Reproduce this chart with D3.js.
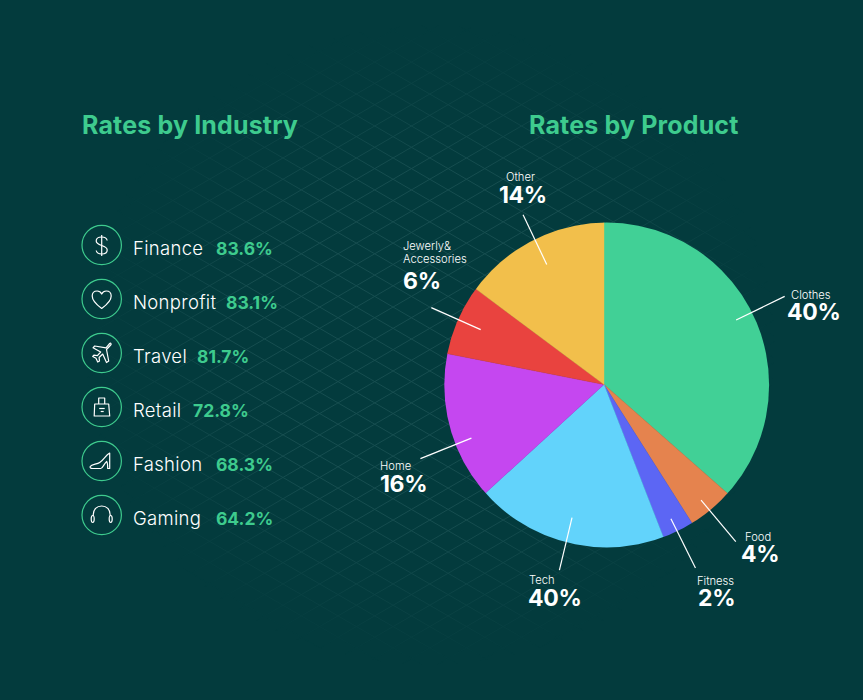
<!DOCTYPE html>
<html>
<head>
<meta charset="utf-8">
<script src="https://cdn.jsdelivr.net/npm/d3@7"></script>
<style>
html, body { margin: 0; padding: 0; background: #033b3d; }
svg { display: block; }
text { font-family: Inter, "Noto Sans", sans-serif; }
</style>
</head>
<body>
<svg id="chart" width="863" height="700"></svg>
<script>
// left list
var industries = ['Finance', 'Nonprofit', 'Travel', 'Retail', 'Fashion', 'Gaming'];
var industryRates = ['83.6%', '83.1%', '81.7%', '72.8%', '68.3%', '64.2%'];

var products = ['Clothes', 'Food', 'Fitness', 'Tech', 'Home', 'Jewerly&|Accessories', 'Other'];
var sliceShares = [36.5, 4.5, 3.1, 19.1, 14.9, 7.1, 14.8];
var printedShares = ['40%', '4%', '2%', '40%', '16%', '6%', '14%'];
var sliceColors = ['#41d096', '#e5834e', '#5c66f4', '#62d3fb', '#c547f0', '#e9433f', '#f2bf4b'];

var WIDTH = 863, HEIGHT = 700, GREEN = '#3ecb8e';
var svg = d3.select('#chart');

// background ------------------------------------------------------------
svg.append('rect').attr('width', WIDTH).attr('height', HEIGHT).attr('fill', '#033b3d');
var defs = svg.append('defs');
var fade = defs.append('radialGradient').attr('id', 'fade')
    .attr('gradientUnits', 'userSpaceOnUse')
    .attr('cx', 0).attr('cy', 0).attr('r', 1)
    .attr('gradientTransform', 'translate(430,345) scale(345,320)');
fade.append('stop').attr('offset', 0).attr('stop-color', '#fff');
fade.append('stop').attr('offset', 0.55).attr('stop-color', '#fff');
fade.append('stop').attr('offset', 1).attr('stop-color', '#000');
defs.append('mask').attr('id', 'gridMask')
    .attr('maskUnits', 'userSpaceOnUse')
    .attr('x', 0).attr('y', 0).attr('width', WIDTH).attr('height', HEIGHT)
    .append('rect').attr('width', WIDTH).attr('height', HEIGHT).attr('fill', 'url(#fade)');

// diamond lattice, 30 degree lines
var grid = svg.append('g').attr('mask', 'url(#gridMask)')
    .attr('stroke', '#174e50').attr('stroke-width', 1).attr('fill', 'none');
var CELL_W = 36.7, CELL_H = 21.3, ORIGIN_X = 338, ORIGIN_Y = 552;
var slope = CELL_H / CELL_W;
grid.selectAll('.down').data(d3.range(-60, 60)).enter().append('line')
    .attr('x1', 0).attr('x2', WIDTH)
    .attr('y1', function(d) { return ORIGIN_Y + d * CELL_H - ORIGIN_X * slope; })
    .attr('y2', function(d) { return ORIGIN_Y + d * CELL_H + (WIDTH - ORIGIN_X) * slope; });
grid.selectAll('.up').data(d3.range(-60, 60)).enter().append('line')
    .attr('x1', 0).attr('x2', WIDTH)
    .attr('y1', function(d) { return ORIGIN_Y + d * CELL_H + ORIGIN_X * slope; })
    .attr('y2', function(d) { return ORIGIN_Y + d * CELL_H - (WIDTH - ORIGIN_X) * slope; });

// titles ------------------------------------------------------------
svg.append('text').attr('x', 82).attr('y', 133.5).attr('fill', GREEN)
    .attr('font-size', 25).attr('font-weight', 700).attr('letter-spacing', 0.15).text('Rates by Industry');
svg.append('text').attr('x', 529).attr('y', 133.5).attr('fill', GREEN)
    .attr('font-size', 25).attr('font-weight', 700).attr('letter-spacing', 0.15).text('Rates by Product');

// industry list ------------------------------------------------------------
var rowY = d3.scaleLinear().domain([0, 5]).range([245, 515]);
var valueX = [216, 226, 197, 193, 216, 216];

// icons are drawn round 0,0 inside the ring
var icons = [
    ['M5.5,-4.5C5,-7 2.5,-8 0,-8C-3,-8 -5.5,-6.5 -5.5,-4C-5.5,-1.5 -3,-0.5 0,0.5C3,1.5 5.5,2.5 5.5,5C5.5,7.5 3,9 0,9C-2.5,9 -5,8 -5.5,5.5', 'M0,-10V11'],
    ['M0,9.5C-4,6.5 -9.5,2.5 -9.5,-3C-9.5,-6.5 -7,-8 -4.5,-8C-2.5,-8 -1,-7 0,-5C1,-7 2.5,-8 4.5,-8C7,-8 9.5,-6.5 9.5,-3C9.5,2.5 4,6.5 0,9.5Z'],
    ['M8,-9.5C9,-10.5 10,-9 9,-8L4.8,-3.5L7,8L4.8,9.5L1,1L-2.6,4.5L-2.2,8L-4,9L-5.7,5.2L-9,3.5L-7.8,2.2L-4.3,2.6L-1,-1L-8.7,-5.2L-7,-7L4.3,-5.2Z'],
    ['M-7,-3H7L8,9H-7.5Z', 'M-3,-3V-9H3V-3', 'M-2.5,1.5H3', 'M-1,4.5H2'],
    ['M8,-8C4,-6 2,-1 -2,1.5C-5,3.5 -10,3 -11.5,5.5C-12,7 -11,7.5 -9,7.5H-1C1,7.5 2,3 5,0.5C6,2 6,5 6,7.5H8Z'],
    ['M-8.5,1V0C-8.5,-5.5 -5,-9 0,-9C5,-9 8.5,-5.5 8.5,0V1',
     'M-9,0.5C-10.5,0.5 -10.5,2 -10.5,4C-10.5,6 -10.5,7.5 -9,7.5C-7.5,7.5 -7.5,6 -7.5,4C-7.5,2 -7.5,0.5 -9,0.5Z',
     'M9,0.5C10.5,0.5 10.5,2 10.5,4C10.5,6 10.5,7.5 9,7.5C7.5,7.5 7.5,6 7.5,4C7.5,2 7.5,0.5 9,0.5Z']
];

var rows = svg.selectAll('.row').data(industries).enter().append('g')
    .attr('class', 'row')
    .attr('transform', function(d, i) { return 'translate(0,' + rowY(i) + ')'; });
rows.append('circle').attr('cx', 101.7).attr('r', 19.7)
    .attr('fill', 'none').attr('stroke', GREEN).attr('stroke-width', 1.2);
rows.append('g').attr('transform', 'translate(101.7,0)')
    .selectAll('path').data(function(d, i) { return icons[i]; }).enter().append('path')
    .attr('d', function(d) { return d; })
    .attr('fill', 'none').attr('stroke', '#fff').attr('stroke-width', 1.2).attr('stroke-linejoin', 'round');
rows.append('text').attr('x', 133).attr('y', 9.5).attr('fill', '#fff')
    .attr('font-size', 18.5).attr('font-weight', 300).attr('letter-spacing', 0.3)
    .text(function(d) { return d; });
rows.append('text').attr('x', function(d, i) { return valueX[i]; }).attr('y', 9.5)
    .attr('fill', GREEN).attr('font-size', 17.5).attr('font-weight', 700)
    .text(function(d, i) { return industryRates[i]; });

// pie ------------------------------------------------------------
// the wedges meet a little left of the circle's true centre, so they are
// drawn oversize from the apex and cut down by the circle
var APEX_X = 604, APEX_Y = 384.5;
defs.append('clipPath').attr('id', 'pieClip').append('circle')
    .attr('cx', 606.7).attr('cy', 385).attr('r', 162.4);

var pie = d3.pie().sort(null).value(function(d) { return d; });
var arc = d3.arc().innerRadius(0).outerRadius(175);
var slices = pie(sliceShares);

svg.append('g').attr('clip-path', 'url(#pieClip)')
    .append('g').attr('transform', 'translate(' + APEX_X + ',' + APEX_Y + ')')
    .selectAll('.slice').data(slices).enter().append('path')
    .attr('class', 'slice')
    .attr('d', arc)
    .attr('fill', function(d, i) { return sliceColors[i]; })
    .attr('stroke', function(d, i) { return sliceColors[i]; })
    .attr('stroke-width', 0.4);

// leader lines run out along these bearings (degrees clockwise from 12 o'clock)
var leaderAngle = [64, 140, 153.5, 193.5, 248, 294, 334.5];
var leaderFrom = [147, 151, 150, 137, 143, 135, 133];
var leaderTo = [201, 205, 205, 191, 198, 189, 188];
var rad = d3.scaleLinear().domain([0, 360]).range([0, 2 * Math.PI]);

svg.append('g').attr('transform', 'translate(' + APEX_X + ',' + APEX_Y + ')')
    .selectAll('.leader').data(products).enter().append('line')
    .attr('class', 'leader')
    .attr('stroke', '#fff').attr('stroke-width', 1.2)
    .each(function(d, i) {
        var a = d3.pointRadial(rad(leaderAngle[i]), leaderFrom[i]);
        var b = d3.pointRadial(rad(leaderAngle[i]), leaderTo[i]);
        d3.select(this).attr('x1', a[0]).attr('y1', a[1]).attr('x2', b[0]).attr('y2', b[1]);
    });

// label block: left edge of the name, left edge of the percent, percent baseline,
// and how far the name's last line sits above that baseline
var nameX = [791, 745, 697, 529, 380, 403, 506];
var pctX = [787, 741, 698, 528, 380, 403, 499];
var pctY = [320, 562, 606, 606, 492, 289, 203];
var nameGap = [21, 21, 21, 22, 22, 26, 22];

var labels = svg.selectAll('.label').data(products).enter().append('g').attr('class', 'label');
labels.each(function(d, i) {
    var g = d3.select(this), parts = d.split('|');
    parts.forEach(function(p, j) {
        g.append('text')
            .attr('x', nameX[i])
            .attr('y', pctY[i] - nameGap[i] - (parts.length - 1 - j) * 13)
            .attr('fill', '#fff').attr('font-size', 11.2).attr('font-weight', 300)
            .text(p);
    });
    g.append('text').attr('x', pctX[i]).attr('y', pctY[i])
        .attr('fill', '#fff').attr('font-size', 23).attr('font-weight', 700).attr('letter-spacing', -0.3)
        .text(printedShares[i]);
});
</script>
</body>
</html>
